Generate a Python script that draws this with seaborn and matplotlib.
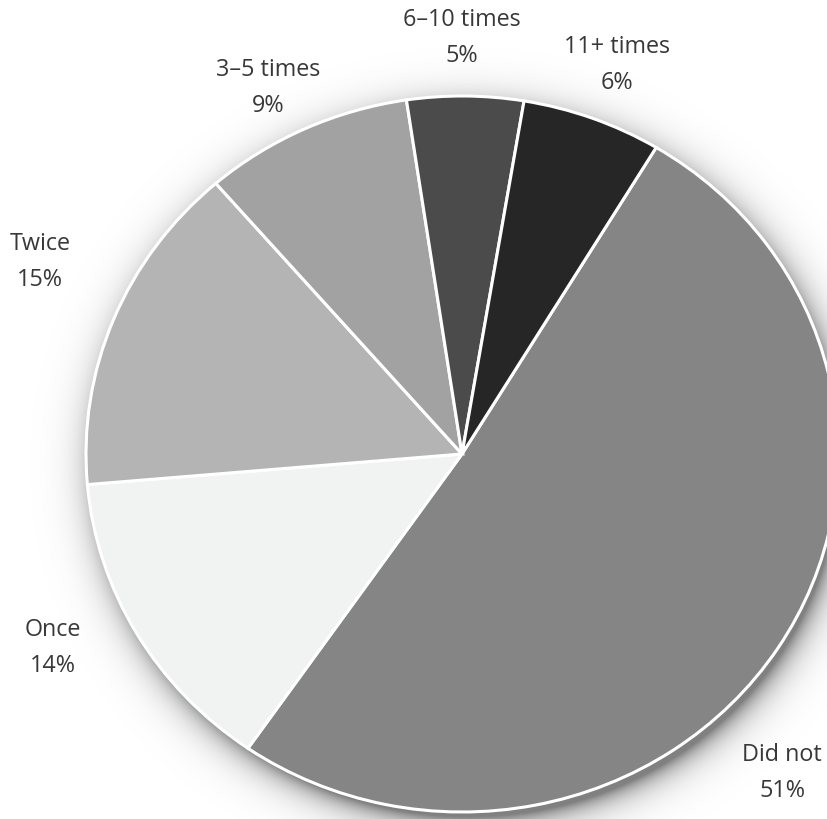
import numpy as np
import matplotlib
matplotlib.use("Agg")
import matplotlib.pyplot as plt
import seaborn as sns

# Survey answers, in clockwise order starting from the largest share
categories = ["Did not", "Once", "Twice", "3\u20135 times", "6\u201310 times", "11+ times"]
shares = [51, 14, 15, 9, 5, 6]
slice_colors = ["#858585", "#f1f2f2", "#b4b4b4", "#a2a2a2", "#4b4b4b", "#262626"]

sns.set_theme(style="white")
plt.rcParams["font.family"] = ["Open Sans", "DejaVu Sans"]

W, H = 828, 820
fig = plt.figure(figsize=(W / 100, H / 100), dpi=100)
fig.patch.set_facecolor("white")
ax = fig.add_axes([0, 0, 1, 1])

# Pie geometry in pixels: centre and horizontal / vertical radii
cx, cy = 462, 455
rx, ry = 376, 358
xlim = (-cx / rx, (W - cx) / rx)
ylim = (-(H - cy) / ry, cy / ry)

# Soft drop shadow under the pie
gx = np.linspace(xlim[0], xlim[1], 700)
gy = np.linspace(ylim[0], ylim[1], 700)
X, Y = np.meshgrid(gx, gy)
r = np.sqrt((X - 0.018) ** 2 + (Y + 0.03) ** 2)
alpha = 0.5 * np.exp(-np.clip(r - 0.985, 0, None) / 0.038)
shadow = np.zeros(X.shape + (4,))
shadow[..., 3] = alpha
ax.imshow(shadow, extent=(xlim[0], xlim[1], ylim[0], ylim[1]), origin="lower",
          aspect="auto", zorder=0, interpolation="bilinear")

ax.pie(shares, colors=slice_colors, startangle=58.9, counterclock=False,
       radius=1.0, wedgeprops=dict(edgecolor="white", linewidth=2.2, zorder=2))
ax.set_aspect("auto")
ax.set_xlim(*xlim)
ax.set_ylim(*ylim)
ax.axis("off")

# Category labels with their percentages, placed around the pie
label_pos = {
    "Did not": (782, 773),
    "Once": (53, 648),
    "Twice": (40, 262),
    "3\u20135 times": (268, 88),
    "6\u201310 times": (462, 38),
    "11+ times": (617, 65),
}
for cat, val in zip(categories, shares):
    px, py = label_pos[cat]
    fig.text(px / W, 1 - py / H, f"{cat}\n{val}%", ha="center", va="center",
             fontsize=16.8, color="#383838", linespacing=1.7)

fig.savefig("out.png", dpi=100, facecolor="white")
